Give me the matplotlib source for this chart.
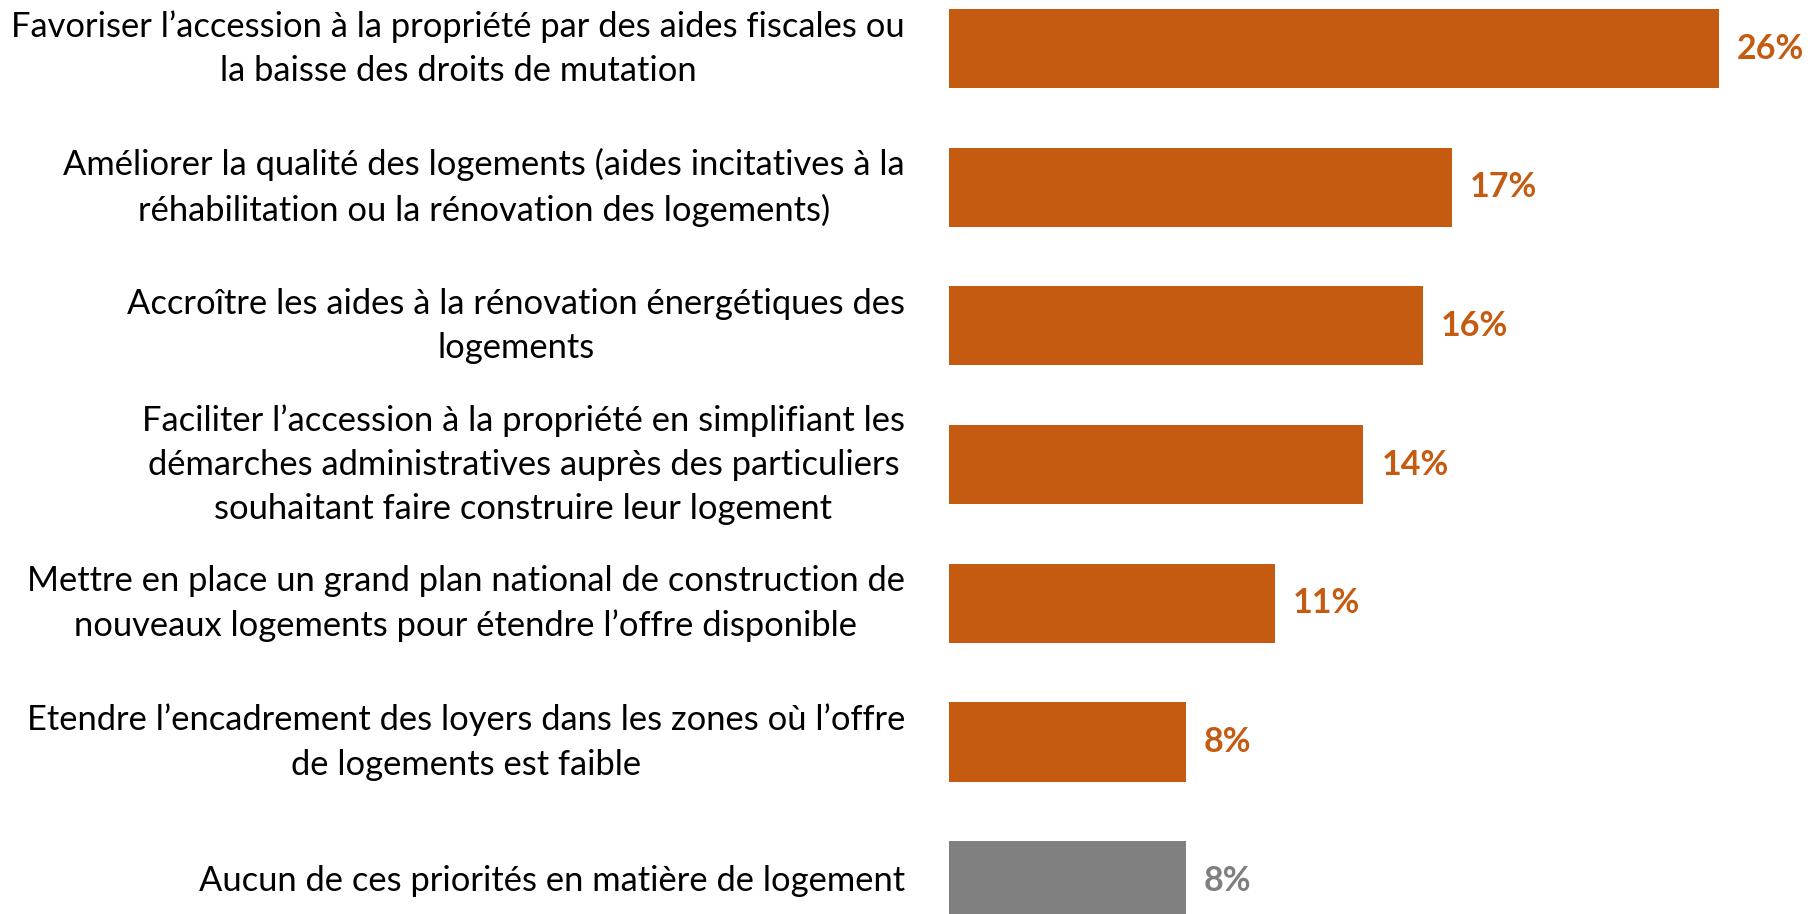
import matplotlib.pyplot as plt

plt.rcParams["font.family"] = ["Lato", "DejaVu Sans"]

labels = [
    "Favoriser l’accession à la propriété par des aides fiscales ou\nla baisse des droits de mutation",
    "Améliorer la qualité des logements (aides incitatives à la\nréhabilitation ou la rénovation des logements)",
    "Accroître les aides à la rénovation énergétiques des\nlogements",
    "Faciliter l’accession à la propriété en simplifiant les\ndémarches administratives auprès des particuliers\nsouhaitant faire construire leur logement",
    "Mettre en place un grand plan national de construction de\nnouveaux logements pour étendre l’offre disponible",
    "Etendre l’encadrement des loyers dans les zones où l’offre\nde logements est faible",
    "Aucun de ces priorités en matière de logement",
]
values = [26, 17, 16, 14, 11, 8, 8]
value_labels = ["26%", "17%", "16%", "14%", "11%", "8%", "8%"]

orange = "#C55A11"
grey = "#808080"
colors = [orange] * 6 + [grey]
text_colors = [orange] * 6 + ["#7F7F7F"]

W, H = 1813, 914
fig = plt.figure(figsize=(W / 100, H / 100), dpi=100)
# axis spans from the bars' left edge to the right border
ax = fig.add_axes([949 / W, 0, 1 - 949 / W, 1])

pos = list(range(len(values)))
ax.barh(pos, values, height=0.57, color=colors)
ax.set_xlim(0, (W - 949) / 29.6)
ax.set_ylim(6.24, -0.35)
ax.axis("off")

for y, lab in zip(pos, labels):
    ax.text(-44 / (W - 949), y, lab, transform=ax.get_yaxis_transform(),
            ha="right", va="center", multialignment="center",
            fontsize=24.8, color="black", linespacing=1.48)

for y, v, vl, c in zip(pos, values, value_labels, text_colors):
    ax.annotate(vl, (v, y), xytext=(18, 0), textcoords="offset pixels",
                ha="left", va="center", fontsize=24.5, fontweight="bold", color=c)

fig.savefig("out.png", dpi=100)
